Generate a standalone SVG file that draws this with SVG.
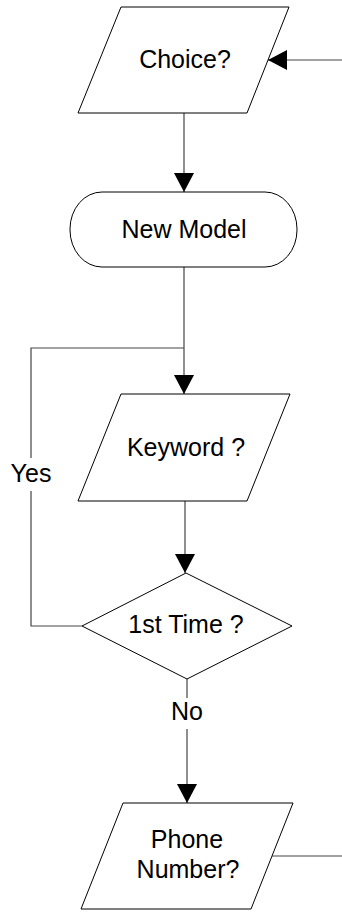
<svg xmlns="http://www.w3.org/2000/svg" width="342" height="912" viewBox="0 0 342 912">
<style>
.shape{fill:#fff;stroke:#000;stroke-width:1}
.conn{fill:none;stroke:#444;stroke-width:1.2}
.t{font-family:"Liberation Sans",Arial,sans-serif;font-size:25px;fill:#000;text-anchor:middle}
.lblbg{fill:#fff;stroke:none}
</style>
<defs>
<marker id="arr" markerUnits="userSpaceOnUse" markerWidth="20" markerHeight="20" refX="19" refY="10" orient="auto">
<path d="M0,0 L19,10 L0,20 z" fill="#000"/>
</marker>
</defs>
<rect width="342" height="912" fill="#fff"/>
<g id="connectors">
<line class="conn" x1="342" y1="60" x2="268" y2="60" marker-end="url(#arr)"/>
<line class="conn" x1="184" y1="113" x2="184" y2="192" marker-end="url(#arr)"/>
<line class="conn" x1="184" y1="267" x2="184" y2="394" marker-end="url(#arr)"/>
<polyline class="conn" points="82,626 31,626 31,348 184,348"/>
<line class="conn" x1="185" y1="501" x2="185" y2="573" marker-end="url(#arr)"/>
<line class="conn" x1="187" y1="679" x2="187" y2="803" marker-end="url(#arr)"/>
<line class="conn" x1="272" y1="856" x2="342" y2="856"/>
<g id="label-yes">
<rect class="lblbg" x="7" y="458" width="48" height="33"/>
<text class="t" x="31" y="482">Yes</text>
</g>
<g id="label-no">
<rect class="lblbg" x="169" y="698" width="36" height="31"/>
<text class="t" x="187" y="720">No</text>
</g>
</g>
<g id="choice">
<polygon class="shape" points="121,7 289,7 247,113 78,113"/>
<text class="t" x="185" y="68">Choice?</text>
</g>
<g id="new-model">
<rect class="shape" x="70" y="192" width="227" height="75" rx="32" ry="37"/>
<text class="t" x="184" y="238">New Model</text>
</g>
<g id="keyword">
<polygon class="shape" points="121,394 290,394 247,501 78,501"/>
<text class="t" x="186" y="456">Keyword ?</text>
</g>
<g id="first-time">
<polygon class="shape" points="186,573 292,626 187,679 82,626"/>
<text class="t" x="186" y="633">1st Time ?</text>
</g>
<g id="phone-number">
<polygon class="shape" points="123,803 293,803 251,909 81,909"/>
<text class="t" x="187" y="848">Phone</text>
<text class="t" x="188" y="878">Number?</text>
</g>
</svg>
